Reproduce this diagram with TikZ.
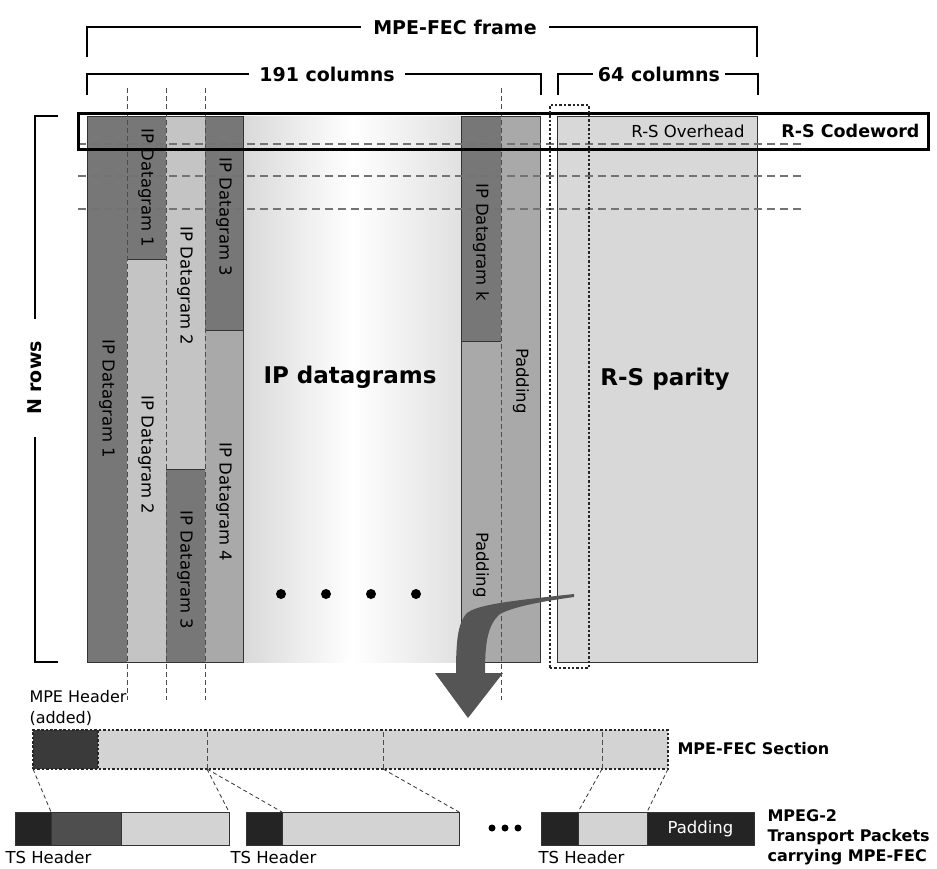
\documentclass[tikz,border=0pt]{standalone}
\usepackage{fontspec}
\setmainfont{DejaVu Sans}
\usepackage{xcolor}
\usepackage{tikz}
\usetikzlibrary{positioning}

\definecolor{dkcell}{HTML}{777777}
\definecolor{ltcell}{HTML}{C4C4C4}
\definecolor{mdcell}{HTML}{A9A9A9}
\definecolor{parcell}{HTML}{D8D8D8}
\definecolor{seccell}{HTML}{D3D3D3}
\definecolor{hdrcell}{HTML}{3A3A3A}
\definecolor{tscell}{HTML}{242424}
\definecolor{p1cell}{HTML}{4E4E4E}
\definecolor{arwcol}{HTML}{555555}

\begin{document}
\begin{tikzpicture}[x=1pt,y=-1pt,font=\fontsize{16.5}{19}\selectfont,
  cell/.style={inner sep=0pt,outer sep=0pt,anchor=north west},
  rim/.style={draw=black!80,line width=0.9pt},
  pk/.style={draw=black!80,line width=0.8pt,inner sep=0pt,outer sep=0pt,minimum height=33pt},
  lbl/.style={rotate=-90},
  hd/.style={font=\fontsize{#1}{#1}\selectfont\bfseries},
  brk/.style={line width=1.3pt},
  hdash/.style={draw=black!55,line width=1.3pt,dash pattern=on 8pt off 5pt},
  vdash/.style={draw=black!70,line width=0.8pt,dash pattern=on 5pt off 3pt},
  dotbox/.style={draw=black!85,line width=2.6pt,dash pattern=on 2.4pt off 2pt},
  link/.style={draw=black!80,line width=0.8pt,dash pattern=on 4pt off 3pt}]
\useasboundingbox (0,0) rectangle (937,868);

\node[cell,fill=dkcell,minimum width=40pt,minimum height=546pt] (c1) at (87,116) {};
\node[cell,fill=dkcell,minimum width=39pt,minimum height=143pt] (c2t) at (127,116) {};
\node[cell,fill=ltcell,minimum width=39pt,minimum height=403pt] (c2b) at (127,259) {};
\node[cell,fill=ltcell,minimum width=39pt,minimum height=353pt] (c3t) at (166,116) {};
\node[cell,fill=dkcell,minimum width=39pt,minimum height=193pt] (c3b) at (166,469) {};
\node[cell,fill=dkcell,minimum width=38pt,minimum height=214pt] (c4t) at (205,116) {};
\node[cell,fill=mdcell,minimum width=38pt,minimum height=332pt] (c4b) at (205,330) {};
\node[cell,fill=dkcell,minimum width=40pt,minimum height=225pt] (ck) at (461,116) {};
\node[cell,fill=mdcell,minimum width=40pt,minimum height=321pt] (cp1) at (461,341) {};
\node[cell,fill=mdcell,minimum width=39pt,minimum height=546pt] (cp2) at (501,116) {};
\node[cell,rim,fill=parcell,minimum width=200pt,minimum height=546pt] (par) at (557,116) {};
\shade[left color=black!15,right color=black!12,middle color=white] (c4t.north east) rectangle (cp1.south west);
\draw[rim] (c1.north west) rectangle (c4b.south east);
\draw[rim] (c2t.south west) -- (c2t.south east);
\draw[rim] (c3b.north west) -- (c3b.north east);
\draw[rim] (c4b.north west) -- (c4b.north east);
\draw[rim] (ck.north west) rectangle (cp2.south east);
\draw[rim] (ck.south west) -- (ck.south east);

\foreach \y in {144,176,209} \draw[hdash] (78,\y) -- (805,\y);
\foreach \x in {127,166,205,501} \draw[vdash] (\x,88) -- (\x,700);

\node[cell,draw,line width=3pt,minimum width=850pt,minimum height=36pt] (cw) at (78,113) {};
\node[hd=17.5,anchor=east] (rsc) at ([xshift=-5pt]cw.east) {R-S Codeword};
\node (rso) at (688,131) {R-S Overhead};
\node[cell,dotbox,minimum width=39pt,minimum height=563pt] (cwcol) at (550,105) {};

\node[hd=19,inner xsep=12pt] (frm) at (455,27) {MPE-FEC frame};
\draw[brk] (87,57) |- (frm.west);
\draw[brk] (frm.east) -| (757,57);
\node[hd=19,inner xsep=10pt] (c191) at (327,74) {191 columns};
\draw[brk] (87,95) |- (c191.west);
\draw[brk] (c191.east) -| (541,95);
\node[hd=19,inner xsep=5pt] (c64) at (659,74) {64 columns};
\draw[brk] (558,95) |- (c64.west);
\draw[brk] (c64.east) -| (758,95);
\node[hd=19,rotate=90,inner xsep=22pt] (nr) at (35,378) {N rows};
\draw[brk] (58,116) -| (nr.east);
\draw[brk] (58,662) -| (nr.west);

\node[lbl] (l1a) at (146,188) {IP Datagram 1};
\node[lbl] (l1b) at (107,399) {IP Datagram 1};
\node[lbl] (l2a) at (185,286) {IP Datagram 2};
\node[lbl] (l2b) at (146,455) {IP Datagram 2};
\node[lbl] (l3a) at (224,217) {IP Datagram 3};
\node[lbl] (l3b) at (185,570) {IP Datagram 3};
\node[lbl] (l4) at (224,502) {IP Datagram 4};
\node[lbl] (lk) at (481,242) {IP Datagram k};
\node[lbl] (lp1) at (481,565) {Padding};
\node[lbl] (lp2) at (521,381) {Padding};
\node[hd=23] (ipd) at (350,377) {IP datagrams};
\node[hd=23] (rsp) at (665,379) {R-S parity};
\foreach \x in {281,326,371,416} \fill (\x,594) circle (5pt);

\fill[arwcol] (574,594) .. controls (520,600) and (475,604) .. (466,614)
  .. controls (458,624) and (456,640) .. (456,673) -- (435,673) -- (468,718)
  -- (503,673) -- (485,673) .. controls (485,645) and (487,625) .. (500,614)
  .. controls (515,606) and (545,601) .. (574,597) -- cycle;

\node[anchor=south west,align=left,font=\fontsize{16}{21}\selectfont] (mph) at (26,729) {MPE Header\\(added)};
\node[cell,dotbox,fill=seccell,minimum width=635pt,minimum height=39pt] (sec) at (33,730) {};
\node[cell,dotbox,fill=hdrcell,minimum width=65pt,minimum height=39pt] (mh) at (33,730) {};
\foreach \c/\x in {s1/207,s2/383,s3/602} {
  \coordinate (\c) at (\x,769);
  \draw[vdash,line width=0.6pt] (\x,732) -- (\c);
}
\node[hd=16,anchor=west] (msl) at (674,749) {MPE-FEC Section};

\node[pk,cell,fill=tscell,minimum width=36pt] (t1) at (15,812) {};
\node[pk,fill=p1cell,minimum width=70pt,right=0pt of t1] (d1) {};
\node[pk,fill=seccell,minimum width=108pt,right=0pt of d1] (e1) {};
\node[pk,cell,fill=tscell,minimum width=36pt] (t2) at (246,812) {};
\node[pk,fill=seccell,minimum width=177pt,right=0pt of t2] (e2) {};
\node[pk,cell,fill=tscell,minimum width=37pt] (t3) at (541,812) {};
\node[pk,fill=seccell,minimum width=69pt,right=0pt of t3] (e3) {};
\node[pk,fill=tscell,text=white,minimum width=107pt,right=0pt of e3] (pd) {Padding};
\foreach \x in {492,505,518} \fill (\x,828) circle (3.5pt);

\draw[link] (sec.south west) -- (t1.north east);
\draw[link] (s1) -- (e1.north east);
\draw[link] (s1) -- (t2.north east);
\draw[link] (s2) -- (e2.north east);
\draw[link] (s3) -- (t3.north east);
\draw[link] (sec.south east) -- (e3.north east);

\node[anchor=north west] (th1) at (2,847) {TS Header};
\node[anchor=north west] (th2) at (227,847) {TS Header};
\node[anchor=north west] (th3) at (535,847) {TS Header};
\node[anchor=north west,align=left,font=\fontsize{16}{20}\selectfont\bfseries] (mpg) at (764,806) {MPEG-2\\Transport Packets\\carrying MPE-FEC};
\end{tikzpicture}
\end{document}
